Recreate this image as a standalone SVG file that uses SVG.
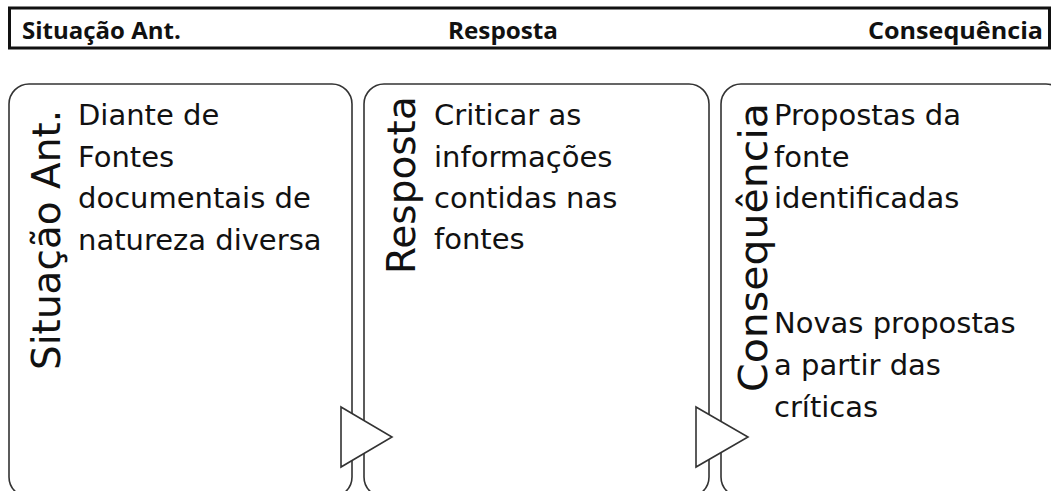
<svg xmlns="http://www.w3.org/2000/svg" width="1051" height="491" viewBox="0 0 1051 491">
<style>
.hdr{font-family:"Open Sans","DejaVu Sans",sans-serif;font-weight:bold;font-size:24px;fill:#111}
.box{fill:#fff;stroke:#333;stroke-width:1.6}
.lbl{font-family:"DejaVu Sans",sans-serif;font-size:39px;fill:#111}
.body{font-family:"DejaVu Sans",sans-serif;font-size:29px;fill:#111}
.tri{fill:#fff;stroke:#333;stroke-width:1.6;stroke-linejoin:miter}
</style>
<rect width="1051" height="491" fill="#fff"/>
<g id="header">
<rect x="9.5" y="8" width="1040" height="40" fill="#fff" stroke="#111" stroke-width="3"/>
<text class="hdr" x="22" y="39">Situação Ant.</text>
<text class="hdr" x="448" y="39" textLength="110" lengthAdjust="spacingAndGlyphs">Resposta</text>
<text class="hdr" x="868" y="39" textLength="175" lengthAdjust="spacingAndGlyphs">Consequência</text>
</g>
<g id="node-situacao">
<rect class="box" x="9" y="84" width="343" height="413" rx="20"/>
<text class="lbl" transform="translate(60,370) rotate(-90)">Situação Ant.</text>
<text class="body" x="78" y="125">Diante de</text>
<text class="body" x="78" y="167">Fontes</text>
<text class="body" x="78" y="208">documentais de</text>
<text class="body" x="78" y="250">natureza diversa</text>
</g>
<g id="node-resposta">
<rect class="box" x="364" y="84" width="345" height="413" rx="20"/>
<text class="lbl" transform="translate(415,274) rotate(-90)">Resposta</text>
<text class="body" x="434" y="125">Criticar as</text>
<text class="body" x="434" y="167">informações</text>
<text class="body" x="434" y="208">contidas nas</text>
<text class="body" x="434" y="249">fontes</text>
</g>
<g id="node-consequencia">
<rect class="box" x="721" y="84" width="345" height="413" rx="20"/>
<text class="lbl" transform="translate(767,392) rotate(-90)" textLength="289" lengthAdjust="spacingAndGlyphs">Consequência</text>
<text class="body" x="774" y="125">Propostas da</text>
<text class="body" x="774" y="167">fonte</text>
<text class="body" x="774" y="208">identificadas</text>
<text class="body" x="774" y="333">Novas propostas</text>
<text class="body" x="774" y="375">a partir das</text>
<text class="body" x="774" y="417">críticas</text>
</g>
<g id="connectors">
<polygon class="tri" points="341,407 392,437 341,467"/>
<polygon class="tri" points="696,407 748,437 696,467"/>
</g>
</svg>
